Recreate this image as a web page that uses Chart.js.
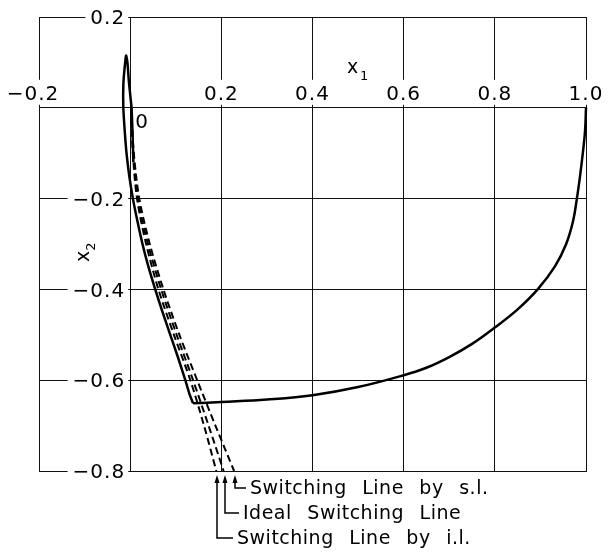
<!DOCTYPE html>
<html>
<head>
<meta charset="utf-8">
<script src="https://cdn.jsdelivr.net/npm/chart.js@4.4.1/dist/chart.umd.min.js"></script>
<style>
  html, body { margin: 0; padding: 0; background: #fff; }
  canvas { display: block; }
</style>
</head>
<body>
<canvas id="phasePlane" width="609" height="558"></canvas>
<script>
// trajectory (solid), part 1: from (1, 0) down to the switching line
const arcX = [1.000, 0.998, 0.993, 0.987, 0.980, 0.9715, 0.9565, 0.9315, 0.894, 0.850, 0.800,
  0.750, 0.700, 0.650, 0.600, 0.500, 0.400, 0.300, 0.200, 0.138];
const arcY = [0.000, -0.050, -0.100, -0.150, -0.200, -0.250, -0.300, -0.350, -0.400, -0.444, -0.484,
  -0.520, -0.549, -0.5725, -0.589, -0.615, -0.633, -0.6425, -0.648, -0.651];
// part 2: up along the switching line, small overshoot past the origin
const climbX = [0.138, 0.130, 0.121, 0.105, 0.088, 0.071, 0.055, 0.040, 0.027, 0.016, 0.006, -0.002, -0.008, -0.012,
  -0.015, -0.015, -0.012, -0.009, -0.006, -0.003, 0.001, 0.003, 0.005, 0.007];
const climbY = [-0.651, -0.630, -0.600, -0.550, -0.500, -0.450, -0.400, -0.350, -0.300, -0.250, -0.200, -0.150, -0.100, -0.050,
  0.000, 0.050, 0.090, 0.115, 0.100, 0.060, 0.020, 0.000, -0.050, -0.120];

// switching lines (dashed), x1 at each x2 level
const x2Levels = [0, -0.1, -0.2, -0.3, -0.4, -0.5, -0.6, -0.7, -0.8];
const ilX = [0.002, 0.006, 0.015, 0.035, 0.062, 0.096, 0.132, 0.162, 0.189];
const idealX = [0.002, 0.007, 0.017, 0.039, 0.068, 0.102, 0.138, 0.172, 0.205];
const slX = [0.002, 0.008, 0.020, 0.043, 0.073, 0.108, 0.147, 0.187, 0.228];

const xTickValues = [-0.2, 0.2, 0.4, 0.6, 0.8, 1.0];
const xTickLabels = ["\u22120.2", "0.2", "0.4", "0.6", "0.8", "1.0"];
const yTickValues = [0.2, -0.2, -0.4, -0.6, -0.8];
const yTickLabels = ["0.2", "\u22120.2", "\u22120.4", "\u22120.6", "\u22120.8"];

const lineLabels = ["Switching Line by s.l.", "Ideal Switching Line", "Switching Line by i.l."];
const lineEnds = [slX[slX.length - 1], idealX[idealX.length - 1], ilX[ilX.length - 1]];

const ink = "#111";
const font = "'DejaVu Sans', 'Liberation Sans', sans-serif";

function toPoints(xs, ys) {
  return xs.map((v, i) => ({ x: v, y: ys[i] }));
}

const phaseLabels = {
  id: "phaseLabels",
  beforeDatasetsDraw(chart) {
    const { ctx, scales: { x, y } } = chart;
    const x0 = x.getPixelForValue(0);
    const y0 = y.getPixelForValue(0);
    ctx.save();
    ctx.font = "20px " + font;
    ctx.letterSpacing = "1px";

    // x1 tick labels sit above the x2 = 0 line
    ctx.textAlign = "center";
    ctx.textBaseline = "alphabetic";
    xTickLabels.forEach((t, i) => {
      const px = x.getPixelForValue(xTickValues[i]) + (xTickValues[i] < 0 ? -6 : 0);
      const w = ctx.measureText(t).width;
      ctx.fillStyle = "#fff";
      ctx.fillRect(px - w / 2 - 3, y0 - 28, w + 6, 25);
      ctx.fillStyle = "#000";
      ctx.fillText(t, px, y0 - 8);
    });

    // x2 tick labels left of the x1 = 0 line
    ctx.textAlign = "right";
    ctx.textBaseline = "middle";
    yTickLabels.forEach((t, i) => {
      const py = y.getPixelForValue(yTickValues[i]);
      const w = ctx.measureText(t).width;
      ctx.fillStyle = "#fff";
      ctx.fillRect(x0 - 10 - w, py - 11, w + 8, 23);
      ctx.fillStyle = "#000";
      ctx.fillText(t, x0 - 5, py + 2);
    });

    // origin
    ctx.textAlign = "center";
    ctx.fillText("0", x0 + 12, y0 + 15);

    // axis names
    ctx.letterSpacing = "0px";
    ctx.textAlign = "left";
    ctx.textBaseline = "alphabetic";
    ctx.font = "19px " + font;
    ctx.fillText("x", 347, 73);
    ctx.font = "13px " + font;
    ctx.fillText("1", 360, 80);

    ctx.translate(89, 262);
    ctx.rotate(-Math.PI / 2);
    ctx.font = "19px " + font;
    ctx.fillText("x", 0, 0);
    const xw = ctx.measureText("x").width;
    ctx.font = "13px " + font;
    ctx.fillText("2", xw, 6);
    ctx.restore();
  },
  afterDraw(chart) {
    const { ctx, scales: { x, y } } = chart;
    const yBottom = y.getPixelForValue(-0.8);
    const legY = [488, 513, 538];
    const textX = [250, 243, 237];
    ctx.save();
    ctx.strokeStyle = "#000";
    ctx.fillStyle = "#000";
    ctx.lineWidth = 1.5;
    ctx.font = "19px " + font;
    ctx.letterSpacing = "0.5px";
    ctx.wordSpacing = "9px";
    ctx.textBaseline = "middle";
    ctx.textAlign = "left";
    lineLabels.forEach((t, i) => {
      const px = Math.round(x.getPixelForValue(lineEnds[i])) + 1;
      // arrow head
      ctx.beginPath();
      ctx.moveTo(px, yBottom + 4);
      ctx.lineTo(px - 2.5, yBottom + 12);
      ctx.lineTo(px + 2.5, yBottom + 12);
      ctx.closePath();
      ctx.fill();
      // leader
      ctx.beginPath();
      ctx.moveTo(px, yBottom + 10);
      ctx.lineTo(px, legY[i]);
      ctx.lineTo(textX[i] - 4, legY[i]);
      ctx.stroke();
      ctx.fillText(t, textX[i], legY[i] + 1);
    });
    ctx.restore();
  },
};

const solid = {
  borderColor: "#000",
  borderWidth: 2.5,
  pointRadius: 0,
  showLine: true,
  clip: false,
};

const dashed = {
  borderColor: "#000",
  borderWidth: 2,
  borderDash: [7, 4],
  pointRadius: 0,
  showLine: true,
  tension: 0.3,
  clip: false,
};

new Chart(document.getElementById("phasePlane"), {
  type: "scatter",
  data: {
    datasets: [
      Object.assign({ label: "trajectory", data: toPoints(arcX, arcY), tension: 0.4 }, solid),
      Object.assign({ label: "switching", data: toPoints(climbX, climbY), tension: 0.2 }, solid),
      Object.assign({ label: "s.l.", data: toPoints(slX, x2Levels) }, dashed),
      Object.assign({ label: "ideal", data: toPoints(idealX, x2Levels) }, dashed),
      Object.assign({ label: "i.l.", data: toPoints(ilX, x2Levels) }, dashed),
    ],
  },
  options: {
    responsive: false,
    animation: false,
    layout: { padding: { left: 39, top: 17, right: 23, bottom: 87 } },
    plugins: { legend: { display: false }, tooltip: { enabled: false } },
    scales: {
      x: {
        type: "linear",
        min: -0.2,
        max: 1.0,
        ticks: { display: false, stepSize: 0.2 },
        grid: { color: ink, lineWidth: 1, drawTicks: false },
        border: { color: ink, width: 1 },
        afterFit: (s) => { s.height = 0; },
      },
      y: {
        type: "linear",
        min: -0.8,
        max: 0.2,
        ticks: { display: false, stepSize: 0.2 },
        grid: { color: ink, lineWidth: 1, drawTicks: false },
        border: { color: ink, width: 1 },
        afterFit: (s) => { s.width = 0; },
      },
    },
  },
  plugins: [phaseLabels],
});
</script>
</body>
</html>
